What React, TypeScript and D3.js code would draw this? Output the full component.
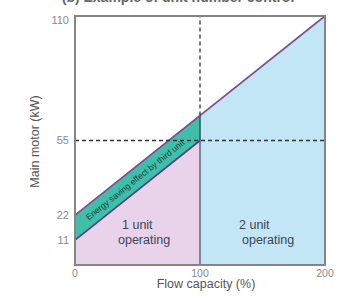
import React from "react";
import * as d3 from "d3";

// axis ticks
const flowTicks = [0, 100, 200];
const motorTicks = [11, 22, 55, 110];

// regions (flow %, motor kW)
const oneUnitArea: [number, number][] = [[0, 0], [0, 11], [100, 55], [100, 0]];
const savingBand: [number, number][] = [[0, 11], [100, 55], [100, 66], [0, 22]];
const twoUnitArea: [number, number][] = [[100, 0], [100, 66], [200, 110], [200, 0]];
const lowerLine: [number, number][] = [[0, 11], [100, 55]];
const upperLine: [number, number][] = [[0, 22], [200, 110]];
const refFlow = 100;
const refMotor = 55;

const W = 348;
const H = 296;
const margin = { top: 16, right: 23, bottom: 31, left: 75 };

const App = () => {
	const x = d3.scaleLinear().domain([0, 200]).range([margin.left, W - margin.right]);
	const y = d3.scaleLinear().domain([0, 110]).range([H - margin.bottom, margin.top]);

	const poly = (pts: [number, number][]) => "M" + pts.map(([a, b]) => `${x(a)},${y(b)}`).join("L") + "Z";
	const line = d3.line<[number, number]>().x((d) => x(d[0])).y((d) => y(d[1]));

	const angle = (Math.atan2(y(55) - y(11), x(100) - x(0)) * 180) / Math.PI;
	const bandX = x(48);
	const bandY = y(37.6);
	const font = "'Liberation Sans', Arial, sans-serif";

	return (
		<svg width={W} height={H} style={{ position: "absolute", left: 0, top: 0, background: "#fff" }} fontFamily={font}>
			<text x={178} y={1.5} textAnchor="middle" fontSize={14} fontWeight="bold" fill="#666">
				(b) Example of unit number control
			</text>

			<path d={poly(oneUnitArea)} fill="#e8d3ea" />
			<path d={poly(twoUnitArea)} fill="#c3e6f7" />
			<path d={poly(savingBand)} fill="#3fbfa9" stroke="#2e6b70" strokeWidth={1} />

			<path d={line(lowerLine) || ""} fill="none" stroke="#5a3f80" strokeWidth={1.6} />
			<path d={line(upperLine) || ""} fill="none" stroke="#7a4f90" strokeWidth={1.6} />

			<line x1={x(refFlow)} x2={x(refFlow)} y1={y(0)} y2={y(66)} stroke="#4a5560" strokeWidth={1.3} />
			<line x1={x(refFlow)} x2={x(refFlow)} y1={y(66)} y2={y(110)} stroke="#333" strokeWidth={1.3} strokeDasharray="4,3" />
			<line x1={x(0)} x2={x(200)} y1={y(refMotor)} y2={y(refMotor)} stroke="#333" strokeWidth={1.3} strokeDasharray="4,3" />

			<rect
				x={x(0)}
				y={y(110)}
				width={x(200) - x(0)}
				height={y(0) - y(110)}
				fill="none"
				stroke="#858585"
				strokeWidth={2}
			/>

			<text
				transform={`translate(${bandX},${bandY}) rotate(${angle})`}
				textAnchor="middle"
				dy="0.35em"
				fontSize={8.5}
				fill="#1d3c40"
			>
				Energy saving effect by third unit
			</text>

			<text x={120} y={229} fontSize={12.5} fill="#3a4654">
				<tspan x={122}>1 unit</tspan>
				<tspan x={118} dy={15}>operating</tspan>
			</text>
			<text x={240} y={229} fontSize={12.5} fill="#3a4654">
				<tspan x={239}>2 unit</tspan>
				<tspan x={242} dy={15}>operating</tspan>
			</text>

			{motorTicks.map((t) => (
				<text key={t} x={x(0) - 6} y={y(t)} dy={t === 110 ? "0.7em" : "0.35em"} textAnchor="end" fontSize={11} fill="#8a8a8a">
					{t}
				</text>
			))}
			{flowTicks.map((t) => (
				<text key={t} x={x(t)} y={y(0) + 11.5} textAnchor="middle" fontSize={10.5} fill="#8a8a8a">
					{t}
				</text>
			))}

			<text x={x(100) + 6} y={288} textAnchor="middle" fontSize={12.5} fill="#555">
				Flow capacity (%)
			</text>
			<text transform={`translate(39,${y(55) + 1}) rotate(-90)`} textAnchor="middle" fontSize={12.5} fill="#555">
				Main motor (kW)
			</text>
		</svg>
	);
};

export default App;
